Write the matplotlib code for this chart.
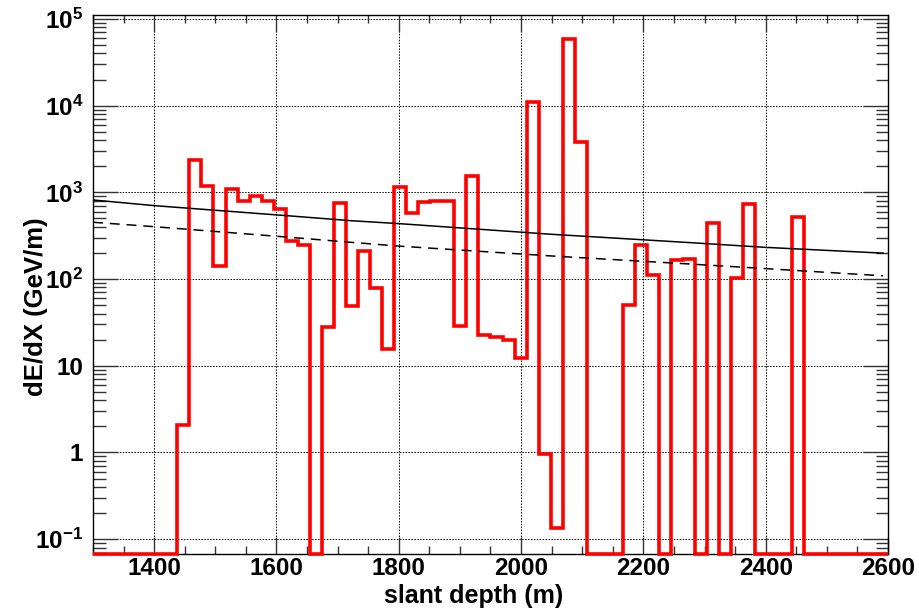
import numpy as np
import matplotlib
matplotlib.use("Agg")
import matplotlib.pyplot as plt
from matplotlib.ticker import FixedLocator, NullFormatter, FuncFormatter

plt.rcParams["font.family"] = ["Liberation Sans", "DejaVu Sans"]
plt.rcParams["font.weight"] = "bold"
plt.rcParams["mathtext.fontset"] = "custom"
plt.rcParams["mathtext.rm"] = "Liberation Sans:bold"
plt.rcParams["mathtext.bf"] = "Liberation Sans:bold"
plt.rcParams["mathtext.it"] = "Liberation Sans:bold"

# ---------------------------
# histogram: 66 bins from 1300 to 2600 m (0 = empty bin)
# ---------------------------
depth_min = 1300
depth_max = 2600
n_bins = 66

dedx = [
    0, 0, 0, 0, 0, 0, 0,
    2.1, 2350, 1186, 142, 1087, 795, 916, 802, 638, 277, 245,
    0, 28.3, 760, 49, 213, 78, 15.5,
    1165, 583, 769, 800, 795, 28.5, 1560, 22.6, 21.5, 19.7, 12.4,
    11100, 0.96, 0.134, 58800, 3790,
    0, 0, 0,
    50, 247, 111, 0, 167, 171, 0, 441, 0, 103, 729,
    0, 0, 0,
    516,
    0, 0, 0, 0, 0, 0, 0,
]

# reference curves (solid and dashed)
curve_depth = [1300, 1400, 1622, 1720, 1800, 2048, 2277, 2400, 2592]
curve_solid = [817, 703, 535, 472, 436, 329, 263, 232, 199]
curve_dashed = [452, 402, 303, 266, 240, 185, 149, 132, 109]

y_lo, y_hi = 0.0675, 1.11e5
y_decades = [-1, 0, 1, 2, 3, 4, 5]

edges = np.linspace(depth_min, depth_max, n_bins + 1)
vals = np.array(dedx, dtype=float)
vals = np.where(vals > 0, vals, y_lo)

fig = plt.figure(figsize=(9.2, 6.11), dpi=100)
ax = fig.add_axes([93 / 920, 1 - 554 / 611, 795 / 920, 539 / 611])

ax.set_yscale("log")
ax.set_xlim(depth_min, depth_max)
ax.set_ylim(y_lo, y_hi)

ax.stairs(vals, edges, baseline=None, color="red", linewidth=2.6,
          clip_on=False, zorder=3)

ax.plot(curve_depth, curve_solid, color="black", linewidth=1.1, zorder=4)
ax.plot(curve_depth, curve_dashed, color="black", linewidth=1.1,
        linestyle=(0, (6.5, 4.5)), zorder=4)

# ticks, ROOT style: inside on all four sides
ax.xaxis.set_major_locator(FixedLocator(np.arange(1400, 2601, 200)))
ax.xaxis.set_minor_locator(FixedLocator(np.arange(1300, 2601, 50)))

major_y = [10.0 ** e for e in y_decades]
minor_y = [m * 10.0 ** e for e in [-2] + y_decades for m in range(2, 10)]
minor_y = [v for v in minor_y if y_lo <= v <= y_hi]
ax.yaxis.set_major_locator(FixedLocator(major_y))
ax.yaxis.set_minor_locator(FixedLocator(minor_y))
ax.yaxis.set_minor_formatter(NullFormatter())


def log_label(v, pos):
    e = int(round(np.log10(v)))
    if e == 0:
        return "1"
    if e == 1:
        return "10"
    return r"$10^{%d}$" % e


ax.yaxis.set_major_formatter(FuncFormatter(log_label))

ax.tick_params(which="both", direction="in", top=True, right=True,
               color="#333333", width=1.0)
ax.tick_params(axis="x", which="major", length=12, pad=2, labelsize=17.5)
ax.tick_params(axis="x", which="minor", length=6)
ax.tick_params(axis="y", which="major", length=18, pad=7, labelsize=17.5)
ax.tick_params(axis="y", which="minor", length=9)

for s in ax.spines.values():
    s.set_linewidth(1.0)
    s.set_color("black")

ax.grid(True, which="major", color="black", linestyle=(0, (1.5, 1.5)),
        linewidth=0.7)

ax.set_xlabel("slant depth (m)", fontsize=18, fontweight="bold")
ax.set_ylabel("dE/dX (GeV/m)", fontsize=18.5, fontweight="bold")
ax.xaxis.set_label_coords((474 - 93) / 795, -(584 - 554) / 539)
ax.yaxis.set_label_coords(-(93 - 48) / 795, (554 - 307) / 539)

plt.savefig("out.png", dpi=100)
